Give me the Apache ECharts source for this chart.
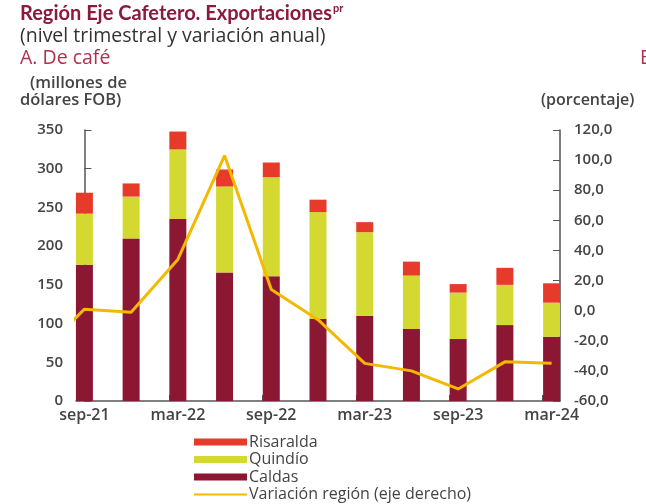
<!DOCTYPE html>
<html>
<head>
<meta charset="utf-8">
<script src="https://cdn.jsdelivr.net/npm/echarts@6/dist/echarts.min.js"></script>
<style>
  html, body { margin: 0; padding: 0; background: #fff; }
  #main { width: 646px; height: 504px; }
</style>
</head>
<body>
<div id="main"></div>
<script>
// trimestres
var periodos = ['sep-21', 'dic-21', 'mar-22', 'jun-22', 'sep-22', 'dic-22', 'mar-23', 'jun-23', 'sep-23', 'dic-23', 'mar-24'];
// millones de dólares FOB
var caldas    = [176, 210, 235, 166, 161, 106, 110, 93, 80, 98, 83];
var quindio   = [66, 54, 90, 111, 128, 138, 108, 69, 60, 52, 44];
var risaralda = [27, 17, 23, 22, 19, 16, 13, 18, 11, 22, 25];
// variación anual región (%), el primer valor es jun-21 (sale recortado)
var variacionPrevia = -30;
var variacion = [1, -1, 34, 103, 14, -6, -35, -40, -52, -34, -35];
var ticksIzq = [0, 350, 50];
var ticksDer = [-60, 120, 20];

var font = 'Open Sans';
var rojo = '#8c1a3c';
// [valor, posición] -> el valor va primero para que el stack sea sobre y
var barras = function(arr) {
    return arr.map(function(v, i) { return [v, i]; });
};
var lineaData = [[-1, variacionPrevia]].concat(variacion.map(function(v, i) { return [i, v]; }));

var myChart = echarts.init(document.getElementById('main'));
var option = {
    animation: false,
    textStyle: { fontFamily: font },
    grid: { left: 76, right: 86, top: 130, bottom: 103 },
    graphic: [
        { type: 'text', left: 20, top: 3, style: {
            text: '{t|Región Eje Cafetero. Exportaciones}{s|pr}',
            rich: {
                t: { font: 'bold 20px Lato', fill: rojo },
                s: { font: 'bold 11px Lato', fill: rojo, verticalAlign: 'top', padding: [0, 0, 10, 1] }
            }
        } },
        { type: 'text', left: 20, top: 26, style: { text: '(nivel trimestral y variación anual)', font: '19.5px ' + font, fill: '#333' } },
        { type: 'text', left: 20, top: 48, style: { text: 'A. De café', font: '19.5px ' + font, fill: '#b0304e' } },
        { type: 'text', left: 640, top: 48, style: { text: 'B', font: '19.5px ' + font, fill: '#b0304e' } },
        { type: 'text', left: 30, top: 75, style: { text: '(millones de', font: '600 16.5px ' + font, fill: '#444' } },
        { type: 'text', left: 20, top: 92, style: { text: 'dólares FOB)', font: '600 16.5px ' + font, fill: '#444' } },
        { type: 'text', left: 541, top: 92, style: { text: '(porcentaje)', font: '600 16px ' + font, fill: '#444' } }
    ],
    legend: {
        orient: 'vertical',
        left: 193,
        top: 434,
        padding: 0,
        itemWidth: 53,
        itemHeight: 7,
        itemGap: 1.5,
        textStyle: { fontSize: 16, lineHeight: 16, color: '#444', fontFamily: font, padding: [0, 0, 0, -3] },
        data: [
            { name: 'Risaralda', icon: 'rect' },
            { name: 'Quindío', icon: 'rect' },
            { name: 'Caldas', icon: 'rect' },
            { name: 'Variación región (eje derecho)', itemStyle: { opacity: 0 }, lineStyle: { width: 2 } }
        ]
    },
    xAxis: {
        type: 'value',
        min: -0.18,
        max: 10.18,
        splitLine: { show: false },
        axisLine: { lineStyle: { color: '#555', width: 1.5 } },
        axisTick: { inside: true, length: 6, lineStyle: { color: '#555', width: 2 }, customValues: [1.82, 3.82, 5.82, 7.82, 9.82] },
        axisLabel: {
            customValues: [0, 2, 4, 6, 8, 10],
            color: '#444',
            fontSize: 16,
            fontWeight: 600,
            margin: 6,
            formatter: function(v) { return periodos[Math.round(v)]; }
        }
    },
    yAxis: [
        {
            type: 'value',
            min: ticksIzq[0], max: ticksIzq[1], interval: ticksIzq[2],
            splitLine: { show: false },
            axisLine: { show: true, lineStyle: { color: '#555', width: 1.5 } },
            axisTick: { show: true, inside: true, length: 7, lineStyle: { color: '#555' } },
            axisLabel: { color: '#444', fontSize: 15, fontWeight: 600, margin: 13 }
        },
        {
            type: 'value',
            position: 'right',
            min: ticksDer[0], max: ticksDer[1], interval: ticksDer[2],
            splitLine: { show: false },
            axisLine: { show: true, lineStyle: { color: '#555', width: 1.5 } },
            axisTick: { show: true, inside: true, length: 7, lineStyle: { color: '#555' } },
            axisLabel: {
                color: '#444', fontSize: 15, fontWeight: 600, margin: 14,
                formatter: function(v) { return v.toFixed(1).replace('.', ','); }
            }
        }
    ],
    series: [
        { name: 'Caldas', type: 'bar', stack: 'total', barWidth: 17, encode: { x: 1, y: 0 }, data: barras(caldas), itemStyle: { color: '#8c1733' } },
        { name: 'Quindío', type: 'bar', stack: 'total', barWidth: 17, encode: { x: 1, y: 0 }, data: barras(quindio), itemStyle: { color: '#d4d932' } },
        { name: 'Risaralda', type: 'bar', stack: 'total', barWidth: 17, encode: { x: 1, y: 0 }, data: barras(risaralda), itemStyle: { color: '#e63a2a' } },
        {
            name: 'Variación región (eje derecho)',
            type: 'line',
            yAxisIndex: 1,
            symbol: 'none',
            data: lineaData,
            lineStyle: { color: '#f5b800', width: 3 },
            itemStyle: { color: '#f5b800' }
        }
    ]
};
myChart.setOption(option);
</script>
</body>
</html>
